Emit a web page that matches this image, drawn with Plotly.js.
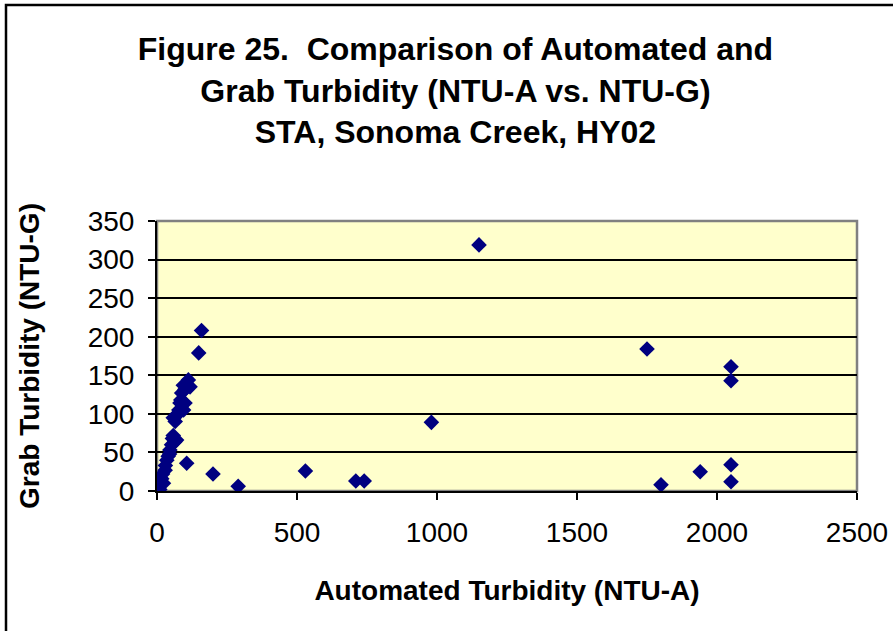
<!DOCTYPE html>
<html>
<head>
<meta charset="utf-8">
<script src="https://cdn.plot.ly/plotly-3.0.1.min.js"></script>
<style>
  html, body { margin: 0; padding: 0; background: #fff; }
  #plot { width: 893px; height: 631px; }
</style>
</head>
<body>
<div id="plot"></div>
<script>
// automated turbidity (NTU-A)
let ntuA = [5, 10, 12, 17, 20, 23, 29, 30, 35, 40, 45, 46, 52, 55, 58, 64, 58, 65, 70, 78, 76, 82, 85, 88, 94, 95, 100, 100, 112, 118, 106,
            149, 159, 200, 290, 530, 710, 740, 980, 1150, 1750, 1800, 1940, 2050, 2050, 2050, 2050];
// grab turbidity (NTU-G)
let ntuG = [4, 2, 8, 16, 22, 10, 27, 33, 40, 45, 48, 53, 60, 68, 72, 64, 95, 90, 66, 105, 100, 114, 118, 127, 137, 105, 114, 132, 144, 135, 36,
            179, 208, 22, 6, 26, 13, 13, 89, 319, 184, 8, 25, 161, 143, 34, 12];

let xTicks = [0, 500, 1000, 1500, 2000, 2500];
let yTicks = [0, 50, 100, 150, 200, 250, 300, 350];

let trace1 = {
  x: ntuA,
  y: ntuG,
  type: "scatter",
  mode: "markers",
  marker: { symbol: "diamond", size: 12, color: "#000080" },
  hoverinfo: "x+y"
};

let layout = {
  width: 893,
  height: 631,
  paper_bgcolor: "#ffffff",
  plot_bgcolor: "#FFFFCC",
  showlegend: false,
  font: { family: "Liberation Sans, Arial, sans-serif", color: "#000" },
  title: {
    text: "<b>Figure 25.  Comparison of Automated and<br>Grab Turbidity (NTU-A vs. NTU-G)<br>STA, Sonoma Creek, HY02</b>",
    font: { size: 32, color: "#000" },
    x: 0.51,
    xanchor: "center",
    yref: "container",
    y: 0.905,
    yanchor: "top"
  },
  margin: { l: 157, r: 36, t: 221, b: 140, pad: 0 },
  xaxis: {
    range: [0, 2500],
    tickvals: xTicks,
    ticks: "outside",
    ticklen: 7,
    tickwidth: 2,
    tickcolor: "#000",
    showline: true,
    linecolor: "#000",
    linewidth: 2,
    showgrid: false,
    zeroline: false,
    tickfont: { size: 28 },
    ticklabelstandoff: 8,
    title: { text: "<b>Automated Turbidity (NTU-A)</b>", font: { size: 28 }, standoff: 34 }
  },
  yaxis: {
    range: [0, 350],
    tickvals: yTicks,
    ticks: "outside",
    ticklen: 7,
    tickwidth: 2,
    tickcolor: "#000",
    showline: true,
    linecolor: "#000",
    linewidth: 2,
    showgrid: true,
    gridcolor: "#000",
    gridwidth: 1.5,
    zeroline: false,
    tickfont: { size: 28 },
    ticklabelstandoff: 8,
    title: { text: "<b>Grab Turbidity (NTU-G)</b>", font: { size: 28 }, standoff: 40 }
  },
  shapes: [
    // grey frame round the plot area
    { type: "rect", xref: "paper", yref: "paper", x0: 0, x1: 1, y0: 0, y1: 1,
      line: { color: "#808080", width: 2.5 }, layer: "below" },
    // outer chart border, open to the right and bottom
    { type: "rect", xref: "paper", yref: "paper", x0: -151 / 700, x1: 750 / 700, y0: -150 / 270, y1: 486 / 270,
      line: { color: "#000", width: 2.5 } }
  ]
};

Plotly.newPlot("plot", [trace1], layout, { displayModeBar: false });
</script>
</body>
</html>
